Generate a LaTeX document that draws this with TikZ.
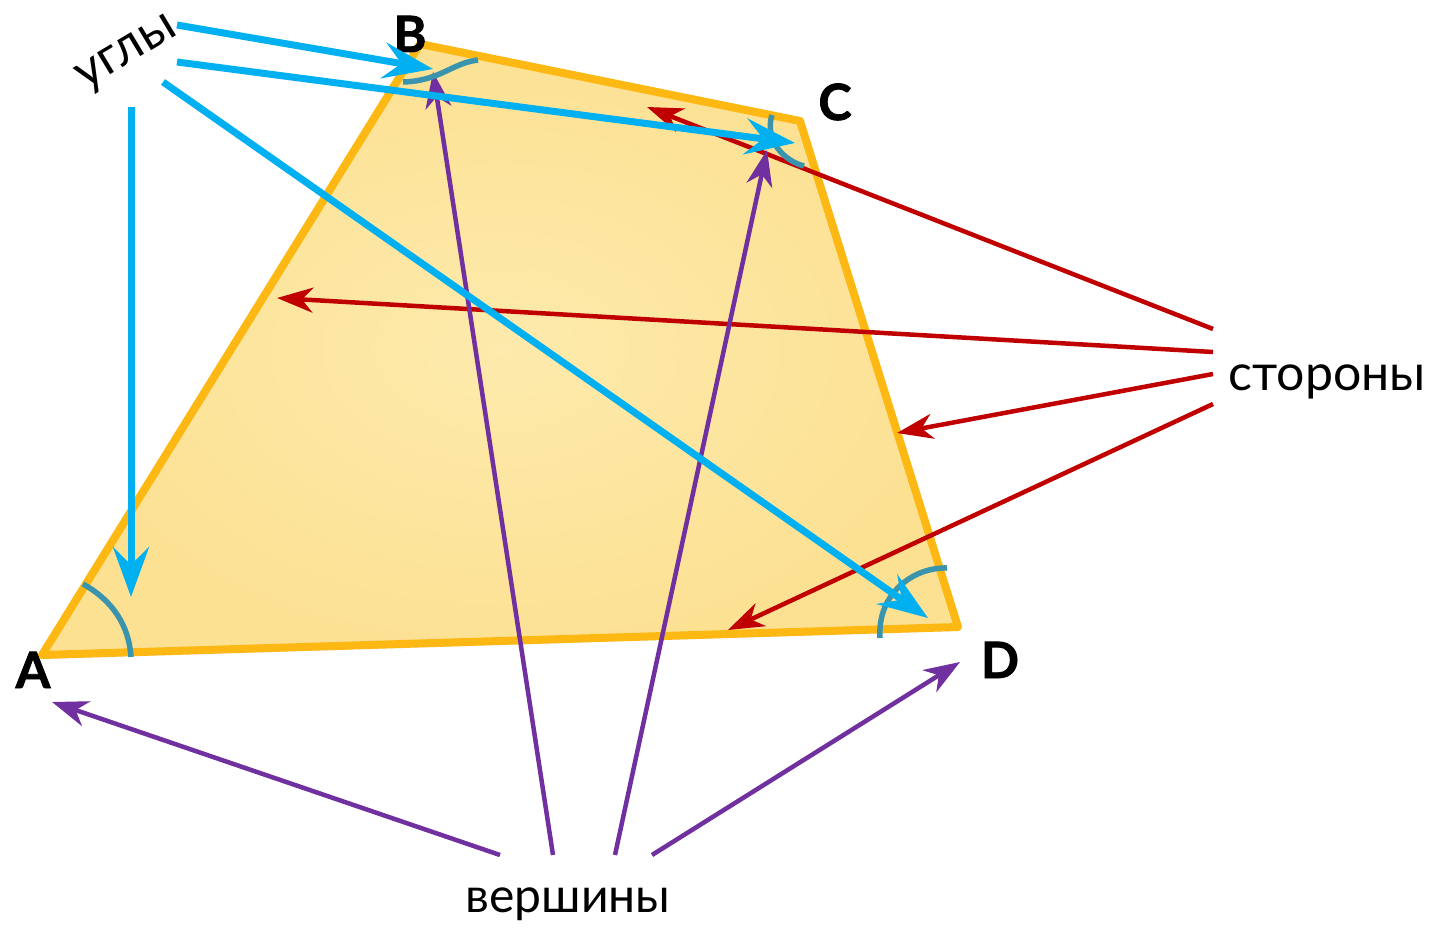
\documentclass[tikz,border=0pt]{standalone}
\usepackage{fontspec}
\setmainfont{Lato}
\newfontfamily\labelfont{Lato}[BoldFeatures={FakeBold=1.6}]
\usetikzlibrary{arrows.meta,positioning,shadows}
\definecolor{anglblue}{HTML}{00B0F0}
\definecolor{sidered}{HTML}{C00000}
\definecolor{vertpurple}{HTML}{7030A0}
\definecolor{markteal}{HTML}{3A94AE}
\definecolor{quadlight}{HTML}{FDEAAC}
\definecolor{quadfill}{HTML}{FCE193}
\definecolor{quadedge}{HTML}{FDB813}

\begin{document}
\begin{tikzpicture}[x=1pt, y=-1pt, >=Stealth,
  every node/.style={font=\fontsize{50}{56}\selectfont, inner sep=0pt},
  vertexlabel/.style={font=\fontsize{50}{56}\selectfont\labelfont\bfseries, anchor=base},
  anglearrow/.style={draw=anglblue, line width=7pt, -{Stealth[length=50pt,width=36pt,inset=18pt]}},
  sidearrow/.style={draw=sidered, line width=4.5pt, -{Stealth[length=36pt,width=25pt,inset=11pt]}},
  vertexarrow/.style={draw=vertpurple, line width=4.5pt, -{Stealth[length=36pt,width=26pt,inset=11pt]}},
  anglemark/.style={draw=markteal, line width=5.5pt}]
  \useasboundingbox (0,0) rectangle (1430,928);

  % the quadrilateral
  \coordinate (A) at (42,655);
  \coordinate (B) at (420,44);
  \coordinate (C) at (800,121);
  \coordinate (D) at (958,627);
  \path[draw=quadedge, line width=8pt, line join=round, inner color=quadlight, outer color=quadfill,
    drop shadow={shadow xshift=2pt, shadow yshift=-4pt, opacity=0.15}]
    (A) -- (B) -- (C) -- (D) -- cycle;

  % vertex letters
  \node[vertexlabel] (lA) at (33,688) {A};
  \node[vertexlabel] (lB) at (410,52) {B};
  \node[vertexlabel] (lC) at (835,120) {C};
  \node[vertexlabel] (lD) at (1000,678) {D};

  % words
  \node[rotate=31] (ugly) at (128,55) {углы};
  \node[anchor=base] (storony) at (1327,390) {стороны};
  \node[anchor=base, font=\fontsize{48}{54}\selectfont] (vershiny) at (568,912) {вершины};

  % free ends of the connectors
  \coordinate (u1) at (177,25);
  \coordinate (u2) at (177,62);
  \coordinate (u3) at (163,82);
  \coordinate (u4) at (131,107);
  \coordinate (s1) at (1213,329);
  \coordinate (s2) at (1213,352);
  \coordinate (s3) at (1213,374);
  \coordinate (s4) at (1213,404);
  \coordinate (v1) at (500,855);
  \coordinate (v2) at (553,855);
  \coordinate (v3) at (615,855);
  \coordinate (v4) at (652,855);
  \coordinate (angA) at (131,597);
  \coordinate (angB) at (433,69);
  \coordinate (angC) at (795,143);
  \coordinate (angD) at (928,618);
  \coordinate (sideBC) at (647,107);
  \coordinate (sideAB) at (277,298);
  \coordinate (sideCD) at (897,433);
  \coordinate (sideAD) at (728,630);
  \coordinate (topA) at (52,702);
  \coordinate (topB) at (433,72);
  \coordinate (topC) at (767,150);
  \coordinate (topD) at (960,662);

  % sides
  \draw[sidearrow] (s1) -- (sideBC);
  \draw[sidearrow] (s2) -- (sideAB);
  \draw[sidearrow] (s3) -- (sideCD);
  \draw[sidearrow] (s4) -- (sideAD);

  % vertices
  \draw[vertexarrow] (v1) -- (topA);
  \draw[vertexarrow] (v2) -- (topB);
  \draw[vertexarrow] (v3) -- (topC);
  \draw[vertexarrow] (v4) -- (topD);

  % angle marks
  \draw[anglemark] (83,584) .. controls (112,600) and (129,625) .. (131,657);
  \draw[anglemark] (403,82) .. controls (440,81) and (452,63) .. (478,60);
  \draw[anglemark] (772,115) .. controls (764,140) and (784,161) .. (804,166);
  \draw[anglemark] (880,638) .. controls (877,594) and (913,567) .. (947,568);

  % angles
  \draw[anglearrow] (u1) -- (angB);
  \draw[anglearrow] (u2) -- (angC);
  \draw[anglearrow] (u3) -- (angD);
  \draw[anglearrow] (u4) -- (angA);
\end{tikzpicture}
\end{document}
